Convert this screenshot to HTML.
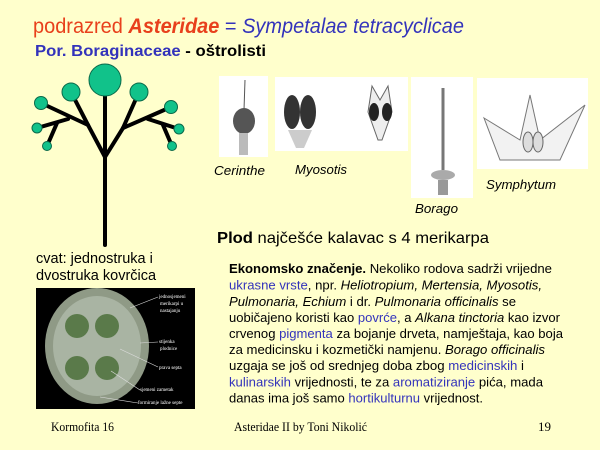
<!DOCTYPE html>
<html><head><meta charset="utf-8"><style>
html,body{margin:0;padding:0;background:#FFFFCC;}
svg{display:block;}
text{font-family:"Liberation Sans",sans-serif;}
.s text, text.s{font-family:"Liberation Serif",serif;}
.b{fill:#3333BB;}
</style></head><body>
<svg width="600" height="450" viewBox="0 0 600 450" xmlns="http://www.w3.org/2000/svg">
<rect width="600" height="450" fill="#FFFFCC"/>
<text x="33" y="33" font-size="21" textLength="431" lengthAdjust="spacingAndGlyphs"><tspan fill="#E8401C">podrazred </tspan><tspan fill="#E8401C" font-weight="bold" font-style="italic">Asteridae</tspan><tspan class="b"> = </tspan><tspan class="b" font-style="italic">Sympetalae tetracyclicae</tspan></text>
<text x="35" y="56" font-size="16" font-weight="bold" textLength="231" lengthAdjust="spacingAndGlyphs"><tspan class="b">Por. Boraginaceae</tspan><tspan fill="#000"> - oštrolisti</tspan></text>

<g stroke="#000" stroke-width="4" fill="none" stroke-linecap="round">
<line x1="105" y1="245" x2="105" y2="80"/>
<polyline points="105,157 88,125 71,92"/>
<polyline points="105,157 123,128 139,92"/>
<line x1="88" y1="125" x2="41" y2="103"/>
<line x1="68" y1="119" x2="37" y2="128"/>
<line x1="57" y1="123" x2="47" y2="146"/>
<line x1="123" y1="128" x2="171" y2="107"/>
<line x1="148" y1="119" x2="179" y2="129"/>
<line x1="163" y1="125" x2="172" y2="146"/>
</g>
<g fill="#11C28A" stroke="#0A6A4A" stroke-width="1">
<circle cx="105" cy="80" r="16"/>
<circle cx="71" cy="92" r="9"/><circle cx="139" cy="92" r="9"/>
<circle cx="41" cy="103" r="6.5"/><circle cx="171" cy="107" r="6.5"/>
<circle cx="37" cy="128" r="5"/><circle cx="179" cy="129" r="5"/>
<circle cx="47" cy="146" r="4.5"/><circle cx="172" cy="146" r="4.5"/>
</g>

<!-- plant images -->
<rect x="219" y="76" width="49" height="81" fill="#fff"/>
<line x1="245" y1="80" x2="244" y2="110" stroke="#555" stroke-width="1"/>
<ellipse cx="244" cy="121" rx="11" ry="13" fill="#555"/>
<rect x="239" y="133" width="9" height="22" fill="#bbb"/>
<rect x="275" y="77" width="133" height="74" fill="#fff"/>
<ellipse cx="292" cy="112" rx="8" ry="17" fill="#333"/><ellipse cx="308" cy="112" rx="8" ry="17" fill="#333"/>
<path d="M288,130 L312,130 L304,148 L296,148Z" fill="#ccc"/>
<path d="M368,112 L372,86 L380,100 L388,86 L392,112 L382,140 L378,140Z" fill="#eee" stroke="#666"/>
<ellipse cx="374" cy="112" rx="5" ry="9" fill="#222"/><ellipse cx="387" cy="112" rx="5" ry="9" fill="#222"/>
<rect x="411" y="77" width="62" height="121" fill="#fff"/>
<line x1="443" y1="88" x2="443" y2="170" stroke="#777" stroke-width="3"/>
<ellipse cx="443" cy="175" rx="12" ry="5" fill="#aaa"/>
<rect x="438" y="180" width="10" height="15" fill="#999"/>
<rect x="477" y="78" width="111" height="91" fill="#fff"/>
<path d="M484,118 L520,140 L530,95 L540,140 L585,105 L560,160 L500,160Z" fill="#f2f2f2" stroke="#777"/>
<ellipse cx="528" cy="142" rx="5" ry="10" fill="#ddd" stroke="#666"/><ellipse cx="538" cy="142" rx="5" ry="10" fill="#ddd" stroke="#666"/>

<g font-size="13" font-style="italic" fill="#000">
<text x="214" y="175" textLength="51" lengthAdjust="spacingAndGlyphs">Cerinthe</text>
<text x="295" y="174" textLength="52" lengthAdjust="spacingAndGlyphs">Myosotis</text>
<text x="415" y="213" textLength="43" lengthAdjust="spacingAndGlyphs">Borago</text>
<text x="486" y="189" textLength="70" lengthAdjust="spacingAndGlyphs">Symphytum</text>
</g>
<text x="217" y="243" font-size="16" textLength="272" lengthAdjust="spacingAndGlyphs"><tspan font-weight="bold">Plod</tspan> najčešće kalavac s 4 merikarpa</text>
<text x="36" y="263" font-size="14.5">cvat: jednostruka i</text>
<text x="36" y="280" font-size="14.5">dvostruka kovrčica</text>

<!-- photo -->
<rect x="36" y="288" width="159" height="121" fill="#000"/>
<ellipse cx="97" cy="346" rx="52" ry="58" fill="#8f9a86"/>
<ellipse cx="97" cy="346" rx="44" ry="50" fill="#a9b4a3"/>
<circle cx="77" cy="326" r="12" fill="#5a7a4a"/><circle cx="107" cy="326" r="12" fill="#5a7a4a"/>
<circle cx="77" cy="368" r="12" fill="#5a7a4a"/><circle cx="107" cy="368" r="12" fill="#5a7a4a"/>
<g stroke="#ddd" stroke-width="0.6">
<line x1="130" y1="308" x2="158" y2="297"/><line x1="140" y1="343" x2="158" y2="342"/>
<line x1="120" y1="349" x2="158" y2="367"/><line x1="111" y1="371" x2="140" y2="390"/>
<line x1="100" y1="397" x2="138" y2="403"/>
</g>
<g class="s" font-size="5" fill="#fff">
<text x="159" y="298">jednosjemeni</text><text x="160" y="305">merikarpi u</text><text x="160" y="312">nastajanju</text>
<text x="159" y="343">stijenka</text><text x="160" y="350">plodnice</text>
<text x="159" y="369">prava septa</text>
<text x="140" y="391">sjemeni zametak</text>
<text x="138" y="404">formiranje lažne septe</text>
</g>

<g font-size="13" fill="#000">
<text x="229" y="273" textLength="323" lengthAdjust="spacingAndGlyphs"><tspan font-weight="bold">Ekonomsko značenje.</tspan> Nekoliko rodova sadrži vrijedne</text>
<text x="229" y="289.5" textLength="313" lengthAdjust="spacingAndGlyphs"><tspan class="b">ukrasne vrste</tspan>, npr. <tspan font-style="italic">Heliotropium, Mertensia, Myosotis,</tspan></text>
<text x="229" y="306" textLength="287" lengthAdjust="spacingAndGlyphs"><tspan font-style="italic">Pulmonaria, Echium</tspan> i dr. <tspan font-style="italic">Pulmonaria officinalis</tspan> se</text>
<text x="229" y="322" textLength="331" lengthAdjust="spacingAndGlyphs">uobičajeno koristi kao <tspan class="b">povrće</tspan>, a <tspan font-style="italic">Alkana tinctoria</tspan> kao izvor</text>
<text x="229" y="338" textLength="334" lengthAdjust="spacingAndGlyphs">crvenog <tspan class="b">pigmenta</tspan> za bojanje drveta, namještaja, kao boja</text>
<text x="229" y="354" textLength="316" lengthAdjust="spacingAndGlyphs">za medicinsku i kozmetički namjenu. <tspan font-style="italic">Borago officinalis</tspan></text>
<text x="229" y="370" textLength="295" lengthAdjust="spacingAndGlyphs">uzgaja se još od srednjeg doba zbog <tspan class="b">medicinskih</tspan> i</text>
<text x="229" y="386.5" textLength="314" lengthAdjust="spacingAndGlyphs"><tspan class="b">kulinarskih</tspan> vrijednosti, te za <tspan class="b">aromatiziranje</tspan> pića, mada</text>
<text x="229" y="402.5" textLength="254" lengthAdjust="spacingAndGlyphs">danas ima još samo <tspan class="b">hortikulturnu</tspan> vrijednost.</text>
</g>

<g class="s" font-size="13" fill="#000">
<text x="51" y="431" textLength="63" lengthAdjust="spacingAndGlyphs">Kormofita 16</text>
<text x="234" y="431" textLength="133" lengthAdjust="spacingAndGlyphs">Asteridae II by Toni Nikolić</text>
<text x="538" y="431">19</text>
</g>
</svg>
</body></html>
